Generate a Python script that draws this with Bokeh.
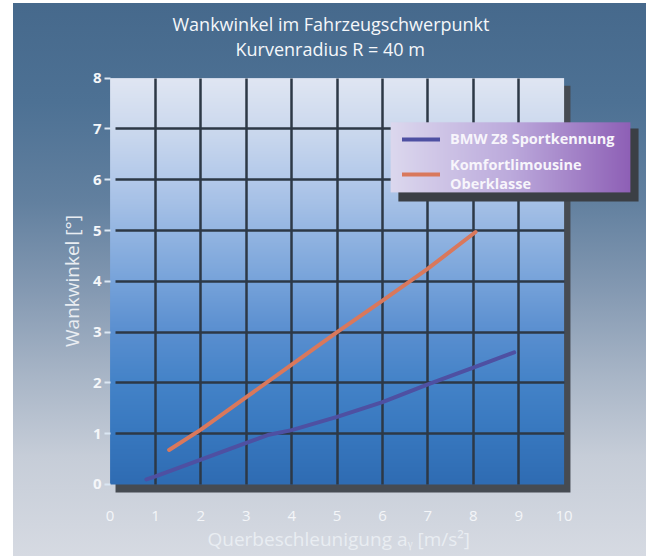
import numpy as np
from bokeh.plotting import figure
from bokeh.models import Range1d, Legend, LegendItem, Title, FixedTicker
from bokeh.embed import file_html
from bokeh.resources import INLINE

# Wankwinkel [°] over Querbeschleunigung a_y [m/s²]
bmw_x = [0.8, 1.0, 2.0, 3.0, 3.5, 4.0, 5.0, 6.0, 7.0, 8.0, 8.9]
bmw_y = [0.10, 0.16, 0.49, 0.82, 0.98, 1.07, 1.33, 1.62, 1.97, 2.30, 2.60]
komfort_x = [1.3, 2.0, 3.0, 4.0, 5.0, 6.0, 7.0, 8.05]
komfort_y = [0.68, 1.08, 1.72, 2.36, 3.0, 3.62, 4.25, 4.97]

x_ticks = list(range(0, 11))
y_ticks = list(range(0, 9))
series_labels = ["BMW Z8 Sportkennung", "Komfortlimousine\nOberklasse"]
title_lines = ["Wankwinkel im Fahrzeugschwerpunkt", "Kurvenradius R = 40 m"]
x_label = "Querbeschleunigung aᵧ [m/s²]"
y_label = "Wankwinkel [°]"

FONT = "Open Sans"


def gradient_image(stops, positions, n, horizontal=False):
    """Packed RGBA image whose colour runs through the given stops."""
    t = np.linspace(0.0, 1.0, n)
    chans = [np.interp(t, positions, [s[i] for s in stops]).astype(np.uint8) for i in range(3)]
    h, w = (4, n) if horizontal else (n, 4)
    img = np.empty((h, w), dtype=np.uint32)
    view = img.view(dtype=np.uint8).reshape((h, w, 4))
    for i in range(3):
        view[:, :, i] = chans[i][None, :] if horizontal else chans[i][:, None]
    view[:, :, 3] = 255
    return img


p = figure(
    width=653, height=556,
    x_range=Range1d(-0.123, 11.815), y_range=Range1d(-0.197, 8.209),
    output_backend="svg", toolbar_location=None,
    min_border_left=104, min_border_right=7, min_border_top=67, min_border_bottom=62,
)
p.outline_line_color = None
p.background_fill_alpha = 0
p.border_fill_alpha = 0
p.styles = {
    "background-color": "#ffffff",
    "background-image": "linear-gradient(to bottom, #46698c 0%, #4d7194 18%, #62809f 36%, #8499b2 52%, #a9b6c7 68%, #c6cdd8 82%, #d6dae2 100%)",
    "background-repeat": "no-repeat",
    "background-position": "13px 3px",
    "background-size": "633px 553px",
}

# drop shadow and gradient panel behind the grid
p.quad(left=[0.12], right=[10.14], bottom=[-0.157], top=[7.85],
       fill_color="#464b52", line_color=None, level="image")
panel_stops = [(47, 108, 179), (56, 120, 191), (68, 131, 200), (90, 143, 208),
               (119, 163, 218), (149, 182, 226), (179, 201, 234), (204, 217, 238),
               (224, 230, 243)]
p.image_rgba(image=[gradient_image(panel_stops, np.linspace(0, 1, 9), 400)],
             x=0, y=0, dw=10, dh=8, level="image")

# grid
p.xgrid.ticker = FixedTicker(ticks=x_ticks[1:-1])
p.ygrid.ticker = FixedTicker(ticks=y_ticks[1:-1])
for g in (p.xgrid, p.ygrid):
    g.grid_line_color = "#2d3846"
    g.grid_line_width = 2.5
p.xgrid.cross_bounds = (0, 8)
p.ygrid.cross_bounds = (0.12, 10)

# legend box: shadow plus a left-to-right lavender/purple gradient
p.quad(left=[6.35], right=[11.64], bottom=[5.57], top=[7.01],
       fill_color="#3b3f45", line_color=None)
legend_stops = [(220, 216, 238), (188, 170, 220), (142, 96, 182)]
p.image_rgba(image=[gradient_image(legend_stops, [0, 0.5, 1], 300, horizontal=True)],
             x=6.18, y=5.75, dw=5.28, dh=1.38)

# data lines
r_bmw = p.line(bmw_x, bmw_y, line_color="#4e50a2", line_width=4, line_cap="round")
r_kom = p.line(komfort_x, komfort_y, line_color="#d9785c", line_width=4, line_cap="round")

legend = Legend(
    items=[LegendItem(label=series_labels[0], renderers=[r_bmw]),
           LegendItem(label=series_labels[1], renderers=[r_kom])],
    location=(290, 293),
    background_fill_alpha=0, border_line_alpha=0,
    label_text_color="#f7f5fb", label_text_font=FONT,
    label_text_font_size="14.5px", label_text_font_style="bold",
    label_text_line_height=1.15,
    glyph_width=38, glyph_height=14, label_standoff=10,
    spacing=7, padding=8, margin=0,
)
p.add_layout(legend)

# two-line title, each line centred over the panel
for text, offset, standoff in ((title_lines[1], 131, 14), (title_lines[0], 68, -16)):
    p.add_layout(Title(text=text, align="left", offset=offset, standoff=standoff,
                       text_font=FONT, text_font_size="18px",
                       text_font_style="normal", text_color="#f5f7fa"), "above")

# axes
p.xaxis.ticker = FixedTicker(ticks=x_ticks)
p.yaxis.ticker = FixedTicker(ticks=y_ticks)
p.yaxis.axis_label = y_label
for ax in (p.xaxis, p.yaxis):
    ax.axis_line_color = None
    ax.minor_tick_line_color = None
    ax.axis_label_text_font = FONT
    ax.axis_label_text_font_size = "19px"
    ax.axis_label_text_font_style = "normal"
    ax.axis_label_text_color = "#e9edf2"
    ax.major_label_text_font = FONT
p.xaxis.major_tick_line_color = None
p.xaxis.major_label_standoff = 10
p.xaxis.major_label_text_font_size = "15px"
p.xaxis.major_label_text_color = "#f4f6f9"
p.yaxis.major_tick_in = 6
p.yaxis.major_tick_out = 0
p.yaxis.major_tick_line_color = "#dbe7f4"
p.yaxis.major_tick_line_width = 2
p.yaxis.major_label_standoff = 3
p.yaxis.major_label_text_font_size = "15px"
p.yaxis.major_label_text_font_style = "bold"
p.yaxis.major_label_text_color = "#f4f6f9"
p.yaxis.axis_label_standoff = 5

# x-axis caption, centred under the panel rather than under the whole frame
p.add_layout(Title(text=x_label, align="left", offset=103, standoff=0,
                   text_font=FONT, text_font_size="19px", text_font_style="normal",
                   text_color="#e9edf2"), "below")

open("out.html", "w").write(file_html(p, INLINE))
